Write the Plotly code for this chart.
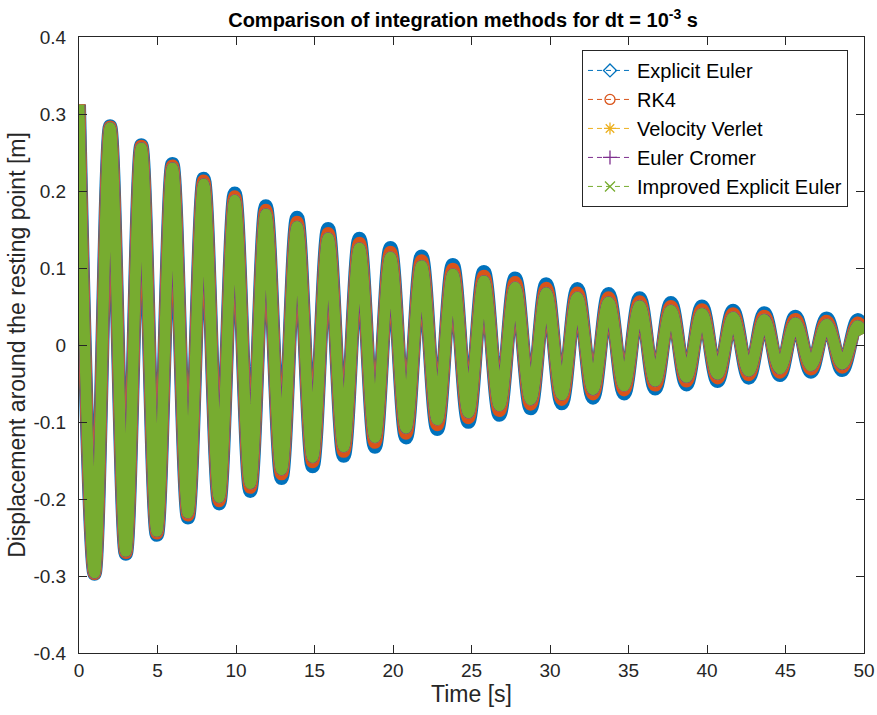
import plotly.graph_objects as go

# Times of the successive extrema, plus the final sample at t = 50 s
t_ext = [0.00, 0.99, 1.98, 2.98, 3.97, 4.96, 5.95, 6.94, 7.94, 8.93,
         9.92, 10.91, 11.90, 12.90, 13.89, 14.88, 15.87, 16.86, 17.86, 18.85,
         19.84, 20.83, 21.82, 22.82, 23.81, 24.80, 25.79, 26.78, 27.78, 28.77,
         29.76, 30.75, 31.74, 32.74, 33.73, 34.72, 35.71, 36.70, 37.70, 38.69,
         39.68, 40.67, 41.66, 42.66, 43.65, 44.64, 45.63, 46.62, 47.62, 48.61,
         49.60, 50.00]

x_explicit_euler = [0.312, -0.297, 0.284, -0.271, 0.2595, -0.2465, 0.235, -0.224, 0.2159, -0.2058,
                    0.1968, -0.1895, 0.1802, -0.1727, 0.1652, -0.1575, 0.1507, -0.1439, 0.138, -0.132,
                    0.126, -0.120, 0.115, -0.109, 0.104, -0.0998, 0.0948, -0.0905, 0.0863, -0.0822,
                    0.0790, -0.0758, 0.0726, -0.0684, 0.0662, -0.0630, 0.0608, -0.0566, 0.0544, -0.0512,
                    0.0500, -0.0468, 0.0446, -0.0424, 0.0412, -0.0390, 0.0368, -0.0346, 0.0345, -0.0324,
                    0.0323, 0.020]

x_rk4 = [0.3127, -0.2968, 0.2832, -0.2695, 0.258, -0.2442, 0.2325, -0.2208, 0.2129, -0.2022,
         0.1925, -0.1848, 0.1750, -0.1673, 0.1595, -0.1517, 0.1449, -0.1381, 0.1322, -0.1263,
         0.1205, -0.1145, 0.1095, -0.1035, 0.0985, -0.0944, 0.0893, -0.0852, 0.0811, -0.0769,
         0.0738, -0.0707, 0.0676, -0.0635, 0.0614, -0.0583, 0.0562, -0.0521, 0.0500, -0.0469,
         0.0458, -0.0427, 0.0406, -0.0385, 0.0374, -0.0353, 0.0332, -0.0311, 0.0310, -0.0289,
         0.0287, 0.017]

x_velocity_verlet = [0.312, -0.296, 0.282, -0.268, 0.256, -0.242, 0.230, -0.218, 0.209, -0.198,
                     0.188, -0.180, 0.170, -0.162, 0.154, -0.146, 0.139, -0.132, 0.126, -0.120,
                     0.114, -0.108, 0.103, -0.097, 0.092, -0.088, 0.083, -0.079, 0.075, -0.071,
                     0.068, -0.065, 0.062, -0.058, 0.056, -0.053, 0.051, -0.047, 0.045, -0.042,
                     0.041, -0.038, 0.036, -0.034, 0.033, -0.031, 0.029, -0.027, 0.027, -0.025,
                     0.025, 0.015]

x_euler_cromer = [0.312, -0.296, 0.282, -0.268, 0.256, -0.242, 0.230, -0.218, 0.209, -0.198,
                  0.188, -0.180, 0.170, -0.162, 0.154, -0.146, 0.139, -0.132, 0.126, -0.120,
                  0.114, -0.108, 0.103, -0.097, 0.092, -0.088, 0.083, -0.079, 0.075, -0.071,
                  0.068, -0.065, 0.062, -0.058, 0.056, -0.053, 0.051, -0.047, 0.045, -0.042,
                  0.041, -0.038, 0.036, -0.034, 0.033, -0.031, 0.029, -0.027, 0.027, -0.025,
                  0.025, 0.015]

x_improved_euler = [0.312, -0.296, 0.282, -0.268, 0.256, -0.242, 0.230, -0.218, 0.209, -0.198,
                    0.188, -0.180, 0.170, -0.162, 0.154, -0.146, 0.139, -0.132, 0.126, -0.120,
                    0.114, -0.108, 0.103, -0.097, 0.092, -0.088, 0.083, -0.079, 0.075, -0.071,
                    0.068, -0.065, 0.062, -0.058, 0.056, -0.053, 0.051, -0.047, 0.045, -0.042,
                    0.041, -0.038, 0.036, -0.034, 0.033, -0.031, 0.029, -0.027, 0.027, -0.025,
                    0.025, 0.015]

series_names = ["Explicit Euler", "RK4", "Velocity Verlet", "Euler Cromer", "Improved Explicit Euler"]
series_values = [x_explicit_euler, x_rk4, x_velocity_verlet, x_euler_cromer, x_improved_euler]
colors = ["#0072BD", "#D95319", "#EDB120", "#7E2F8E", "#77AC30"]
symbols = ["diamond-open", "circle-open", "asterisk-open", "cross-thin-open", "x-thin-open"]
band_widths = [14, 13, 12, 12, 11]

y_ticks = [-0.4, -0.3, -0.2, -0.1, 0, 0.1, 0.2, 0.3, 0.4]
y_ticktext = ["-0.4", "-0.3", "-0.2", "-0.1", "0", "0.1", "0.2", "0.3", "0.4"]
x_ticks = [0, 5, 10, 15, 20, 25, 30, 35, 40, 45, 50]

fig = go.Figure()
for name, ys, c, w in zip(series_names, series_values, colors, band_widths):
    fig.add_trace(go.Scatter(
        x=t_ext, y=ys, mode="lines", name=name, legendgroup=name, showlegend=False,
        line=dict(color=c, width=w, shape="spline"), hoverinfo="skip"))

for name, c, s in zip(series_names, colors, symbols):
    fig.add_trace(go.Scatter(
        x=[None], y=[None], mode="lines+markers", name=name, legendgroup=name,
        line=dict(color=c, width=1, dash="5px,4px"),
        marker=dict(symbol=s, size=10, color=c, line=dict(color=c, width=1.3))))

axis_color = "#262626"
fig.update_layout(
    width=877, height=715, autosize=False,
    margin=dict(l=79, r=13, t=37, b=62, pad=0, autoexpand=False),
    paper_bgcolor="white", plot_bgcolor="white",
    font=dict(family="Liberation Sans, Arial, sans-serif", size=19, color=axis_color),
    title=dict(text="<b>Comparison of integration methods for dt = 10<sup>-3</sup> s</b>",
               x=0.528, xanchor="center", y=0.972, yanchor="middle",
               font=dict(size=20, color="black")),
    legend=dict(x=0.9796, xanchor="right", y=0.979, yanchor="top",
                bgcolor="white", bordercolor=axis_color, borderwidth=1, itemwidth=44,
                font=dict(size=20, color="black"), tracegroupgap=0),
    showlegend=True,
)
fig.update_xaxes(range=[0, 50], tickvals=x_ticks, ticks="inside", ticklen=8, tickcolor=axis_color,
                 showline=True, linecolor=axis_color, linewidth=1, mirror="ticks",
                 showgrid=False, zeroline=False, ticklabelstandoff=0, automargin=False,
                 title=dict(text="Time [s]", standoff=3))
fig.update_yaxes(range=[-0.4, 0.4], tickvals=y_ticks, ticktext=y_ticktext, ticks="inside", ticklen=8,
                 tickcolor=axis_color, showline=True, linecolor=axis_color, linewidth=1, mirror="ticks",
                 showgrid=False, zeroline=False, ticklabelstandoff=8, automargin=False,
                 title=dict(text="Displacement around the resting point [m]", standoff=1))

fig.write_html("out.html")
